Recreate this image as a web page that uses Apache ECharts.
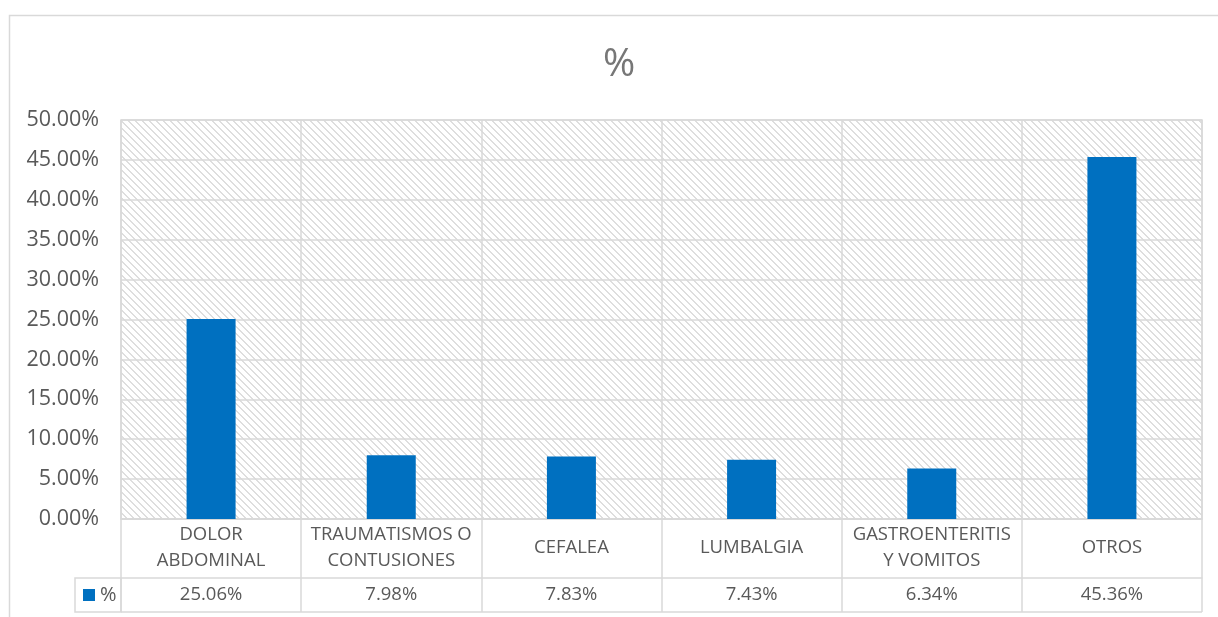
<!DOCTYPE html>
<html>
<head>
<meta charset="utf-8">
<script src="https://cdn.jsdelivr.net/npm/echarts@6/dist/echarts.min.js"></script>
<style>
  html, body { margin: 0; padding: 0; background: #ffffff; }
  #chart { width: 1218px; height: 617px; }
</style>
</head>
<body>
<div id="chart"></div>
<script>
// Motivos de consulta (porcentaje del total)
const categories = ['DOLOR\nABDOMINAL', 'TRAUMATISMOS O\nCONTUSIONES', 'CEFALEA', 'LUMBALGIA', 'GASTROENTERITIS\nY VOMITOS', 'OTROS'];
const values = [25.06, 7.98, 7.83, 7.43, 6.34, 45.36];
const seriesName = '%';
const titleText = '%';

const FONT = '"Open Sans", "Noto Sans", sans-serif';
const LINE = '#d9d9d9';
const TEXT = '#595959';

// Diagonal hatch tile for the plot area background
function hatchTile() {
  const c = document.createElement('canvas');
  c.width = 7; c.height = 7;
  const ctx = c.getContext('2d');
  ctx.fillStyle = '#ffffff';
  ctx.fillRect(0, 0, 7, 7);
  ctx.fillStyle = '#dedede';
  for (let y = 0; y < 7; y++) {
    ctx.fillRect(y % 7, y, 1, 1);
    ctx.fillRect((y + 1) % 7, y, 1, 1);
  }
  return c;
}

const chart = echarts.init(document.getElementById('chart'), null, { renderer: 'canvas' });

chart.setOption({
  backgroundColor: '#ffffff',
  animation: false,
  title: {
    text: titleText,
    left: 603,
    top: 45,
    padding: 0,
    textStyle: { fontFamily: FONT, fontSize: 39, fontWeight: 'normal', color: '#777777' }
  },
  legend: {
    data: [seriesName],
    left: 83,
    top: 585,
    padding: 0,
    icon: 'rect',
    itemWidth: 12,
    itemHeight: 12,
    itemGap: 4,
    textStyle: { fontFamily: FONT, fontSize: 20, color: TEXT }
  },
  grid: {
    left: 121,
    right: 16,
    top: 120,
    bottom: 98,
    show: true,
    backgroundColor: { image: hatchTile(), repeat: 'repeat' },
    borderColor: LINE,
    borderWidth: 1.5
  },
  xAxis: [
    {
      type: 'category',
      data: categories,
      boundaryGap: true,
      axisLine: { show: true, lineStyle: { color: LINE, width: 1.5 } },
      axisTick: { show: true, interval: 0, length: 93, lineStyle: { color: LINE, width: 1.5 } },
      splitLine: { show: true, interval: 0, lineStyle: { color: LINE, width: 1.5 } },
      axisLabel: {
        interval: 0,
        margin: 29,
        verticalAlign: 'middle',
        lineHeight: 26,
        fontFamily: FONT,
        fontSize: 18.5,
        color: TEXT
      }
    },
    {
      type: 'category',
      data: categories,
      position: 'bottom',
      offset: 59,
      boundaryGap: true,
      axisLine: { show: true, lineStyle: { color: LINE, width: 1.5 } },
      axisTick: { show: false },
      splitLine: { show: false },
      axisLabel: {
        interval: 0,
        margin: 17,
        verticalAlign: 'middle',
        fontFamily: FONT,
        fontSize: 18.5,
        color: TEXT,
        formatter: (v, i) => values[i].toFixed(2) + '%'
      }
    }
  ],
  yAxis: {
    type: 'value',
    min: 0,
    max: 50,
    interval: 5,
    axisLine: { show: false },
    axisTick: { show: false },
    splitLine: { show: true, lineStyle: { color: LINE, width: 1.5 } },
    axisLabel: {
      margin: 22,
      fontFamily: FONT,
      fontSize: 21.5,
      color: TEXT,
      formatter: v => v.toFixed(2) + '%'
    }
  },
  series: [
    {
      name: seriesName,
      type: 'bar',
      xAxisIndex: 0,
      data: values,
      barWidth: 49,
      itemStyle: { color: '#0070c0' }
    }
  ],
  graphic: [
    // chart frame
    {
      type: 'rect',
      shape: { x: 9.5, y: 15.5, width: 1300, height: 700 },
      style: { fill: null, stroke: LINE, lineWidth: 1.5 },
      silent: true,
      z: -10
    },
    // legend key cell of the data table
    {
      type: 'rect',
      shape: { x: 75, y: 578, width: 46, height: 34 },
      style: { fill: null, stroke: LINE, lineWidth: 1.5 },
      silent: true
    },
    // bottom rule of the data table
    {
      type: 'line',
      shape: { x1: 121, y1: 612, x2: 1202, y2: 612 },
      style: { stroke: LINE, lineWidth: 1.5 },
      silent: true
    }
  ]
});
</script>
</body>
</html>
